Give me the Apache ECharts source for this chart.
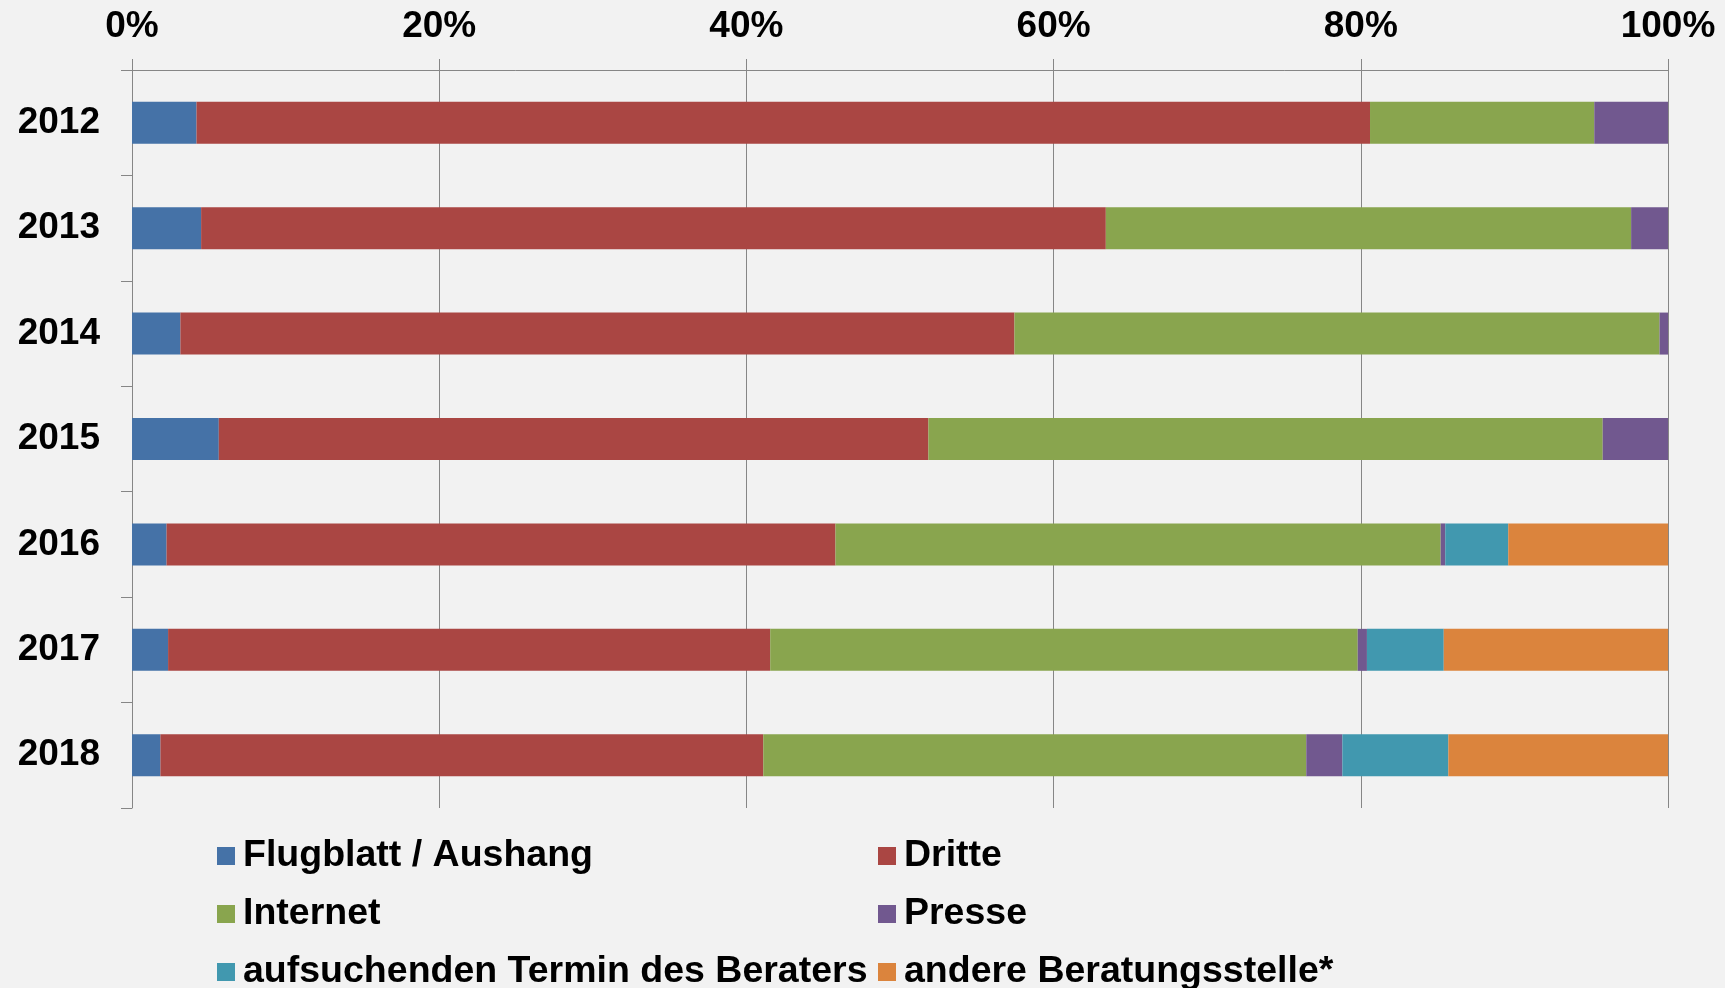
<!DOCTYPE html>
<html>
<head>
<meta charset="utf-8">
<script src="https://cdn.jsdelivr.net/npm/echarts@6/dist/echarts.min.js"></script>
<style>
  html, body { margin: 0; padding: 0; background: #f2f2f2; }
  #main { width: 1725px; height: 988px; }
</style>
</head>
<body>
<div id="main"></div>
<script>
// Anteile in % je Jahr
var years = ["2012", "2013", "2014", "2015", "2016", "2017", "2018"];
var xTicks = [0, 20, 40, 60, 80, 100];

var flugblatt = [4.2, 4.5, 3.15, 5.65, 2.25, 2.35, 1.85];
var dritte = [76.4, 58.9, 54.3, 46.2, 43.55, 39.2, 39.25];
var internet = [14.6, 34.2, 42.0, 43.9, 39.4, 38.25, 35.35];
var presse = [4.8, 2.4, 0.55, 4.25, 0.3, 0.6, 2.35];
var aufsuchend = [0, 0, 0, 0, 4.1, 5.0, 6.9];
var andere = [0, 0, 0, 0, 10.4, 14.65, 14.3];

var names = [
  "Flugblatt / Aushang",
  "Dritte",
  "Internet",
  "Presse",
  "aufsuchenden Termin des Beraters",
  "andere Beratungsstelle*"
];
var colors = ["#4572a7", "#aa4643", "#89a54e", "#71588f", "#4198af", "#db843d"];
var values = [flugblatt, dritte, internet, presse, aufsuchend, andere];

var chartDom = document.getElementById("main");
var myChart = echarts.init(chartDom);
var option;

var font = "'Liberation Sans', Arial, sans-serif";
var gray = "#868686";

var series = names.map(function (n, i) {
  return {
    name: n,
    type: "bar",
    stack: "total",
    barWidth: 42,
    data: values[i],
    itemStyle: { color: colors[i] },
    emphasis: { disabled: true }
  };
});

var legendText = {
  fontFamily: font,
  fontWeight: "bold",
  fontSize: 37.5,
  color: "#000",
  lineHeight: 36,
  padding: [0, 0, 0, 3]
};

var legendBase = {
  orient: "vertical",
  top: 832,
  height: 200,
  itemWidth: 18,
  itemHeight: 18,
  itemGap: 20,
  icon: "rect",
  selectedMode: false,
  textStyle: legendText
};

option = {
  backgroundColor: "#f2f2f2",
  animation: false,
  color: colors,
  grid: { left: 132, right: 57, top: 70, bottom: 180 },
  xAxis: {
    type: "value",
    position: "top",
    min: xTicks[0],
    max: xTicks[xTicks.length - 1],
    interval: 20,
    axisLine: { show: true, lineStyle: { color: gray, width: 1 } },
    axisTick: { show: true, length: 11, lineStyle: { color: gray } },
    splitLine: { show: true, lineStyle: { color: gray, width: 1 } },
    axisLabel: {
      formatter: "{value}%",
      fontFamily: font,
      fontWeight: "bold",
      fontSize: 37,
      color: "#000",
      margin: 25
    }
  },
  yAxis: {
    type: "category",
    inverse: true,
    data: years,
    axisLine: { show: true, lineStyle: { color: gray, width: 1 } },
    axisTick: { show: true, length: 11, lineStyle: { color: gray } },
    axisLabel: {
      fontFamily: font,
      fontWeight: "bold",
      fontSize: 37,
      color: "#000",
      margin: 32,
      padding: [12, 0, 0, 0]
    }
  },
  legend: [
    Object.assign({}, legendBase, {
      left: 212,
      data: [names[0], names[2], names[4]]
    }),
    Object.assign({}, legendBase, {
      left: 873,
      data: [names[1], names[3], names[5]]
    })
  ],
  series: series
};

option && myChart.setOption(option);
</script>
</body>
</html>
